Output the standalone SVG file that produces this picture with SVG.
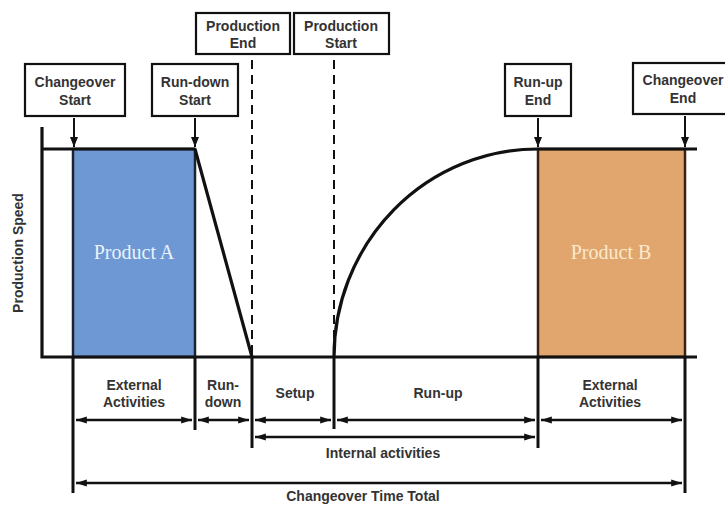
<svg xmlns="http://www.w3.org/2000/svg" width="725" height="506" viewBox="0 0 725 506">
  <style>
    .lbl { font-family: "Liberation Sans", Arial, sans-serif; font-weight: bold; font-size: 14px; fill: #333; text-anchor: middle; }
    .box { fill: #fff; stroke: #111; stroke-width: 2.2; }
    .prod { font-family: "Liberation Serif", "Times New Roman", serif; font-size: 20px; text-anchor: middle; }
    .axis { stroke: #111; stroke-width: 3.2; fill: none; }
    .dim { stroke: #111; stroke-width: 2.6; fill: none; }
    .tick { stroke: #111; stroke-width: 3; }
    .dash { stroke: #111; stroke-width: 2; stroke-dasharray: 9 6; }
    .ptr { stroke: #111; stroke-width: 2; marker-end: url(#head); }
  </style>
  <defs>
    <marker id="head" viewBox="0 0 10 10" refX="10" refY="5" markerWidth="10" markerHeight="10" markerUnits="userSpaceOnUse" orient="auto-start-reverse">
      <path d="M0,1 L10,5 L0,9 Z" fill="#111"/>
    </marker>
    <marker id="dh" viewBox="0 0 12 10" refX="12" refY="5" markerWidth="12" markerHeight="9" markerUnits="userSpaceOnUse" orient="auto-start-reverse">
      <path d="M0,1 L12,5 L0,9 Z" fill="#111"/>
    </marker>
  </defs>

  <rect width="725" height="506" fill="#fff"/>

  <!-- product blocks -->
  <g id="product-a">
    <rect x="73" y="149" width="122" height="208" fill="#6d98d3" stroke="#1c2230" stroke-width="2.5"/>
    <text class="prod" x="134" y="259" fill="#eaf2fb">Product A</text>
  </g>
  <g id="product-b">
    <rect x="538" y="149" width="147" height="208" fill="#e1a66e" stroke="#3a2010" stroke-width="2.5"/>
    <text class="prod" x="611" y="259" fill="#fbe9cf">Product B</text>
  </g>

  <!-- axes and speed profile -->
  <g id="chart">
    <path class="axis" d="M42,127 V357 H697"/>
    <path class="axis" d="M42,149 H195"/>
    <path class="axis" d="M538,149 H697"/>
    <path class="axis" d="M195,149 L252,357"/>
    <path class="axis" d="M334,357 A204,208 0 0 1 538,149"/>
    <line class="dash" x1="252" y1="60" x2="252" y2="355"/>
    <line class="dash" x1="334" y1="60" x2="334" y2="355"/>
    <text class="lbl" font-size="13" transform="translate(23,253) rotate(-90)">Production Speed</text>
  </g>

  <!-- event markers -->
  <g id="changeover-start">
    <rect class="box" x="25" y="64" width="100" height="52"/>
    <text class="lbl" x="75" y="87">Changeover</text>
    <text class="lbl" x="75" y="105">Start</text>
  </g>
  <g id="run-down-start">
    <rect class="box" x="152" y="64" width="86" height="52"/>
    <text class="lbl" x="195" y="87">Run-down</text>
    <text class="lbl" x="195" y="105">Start</text>
  </g>
  <g id="production-end">
    <rect class="box" x="196" y="13" width="94" height="41"/>
    <text class="lbl" x="243" y="31">Production</text>
    <text class="lbl" x="243" y="48">End</text>
  </g>
  <g id="production-start">
    <rect class="box" x="294" y="13" width="95" height="41"/>
    <text class="lbl" x="341" y="31">Production</text>
    <text class="lbl" x="341" y="48">Start</text>
  </g>
  <g id="run-up-end">
    <rect class="box" x="505" y="64" width="66" height="52"/>
    <text class="lbl" x="538" y="87">Run-up</text>
    <text class="lbl" x="538" y="105">End</text>
  </g>
  <g id="changeover-end">
    <rect class="box" x="633" y="63" width="96" height="51"/>
    <text class="lbl" x="683" y="85">Changeover</text>
    <text class="lbl" x="683" y="103">End</text>
  </g>

  <!-- connectors -->
  <g id="connectors">
    <line class="ptr" x1="74" y1="118" x2="74" y2="147"/>
    <line class="ptr" x1="195" y1="118" x2="195" y2="147"/>
    <line class="ptr" x1="538" y1="118" x2="538" y2="147"/>
    <line class="ptr" x1="685" y1="116" x2="685" y2="147"/>

    <line class="tick" x1="73" y1="357" x2="73" y2="493"/>
    <line class="tick" x1="195" y1="357" x2="195" y2="430"/>
    <line class="tick" x1="252" y1="357" x2="252" y2="448"/>
    <line class="tick" x1="334" y1="357" x2="334" y2="429"/>
    <line class="tick" x1="538" y1="357" x2="538" y2="448"/>
    <line class="tick" x1="685" y1="357" x2="685" y2="493"/>

    <line class="dim" x1="76" y1="420" x2="192" y2="420" marker-start="url(#dh)" marker-end="url(#dh)"/>
    <line class="dim" x1="198" y1="420" x2="249" y2="420" marker-start="url(#dh)" marker-end="url(#dh)"/>
    <line class="dim" x1="255" y1="420" x2="331" y2="420" marker-start="url(#dh)" marker-end="url(#dh)"/>
    <line class="dim" x1="337" y1="420" x2="535" y2="420" marker-start="url(#dh)" marker-end="url(#dh)"/>
    <line class="dim" x1="541" y1="420" x2="682" y2="420" marker-start="url(#dh)" marker-end="url(#dh)"/>
    <line class="dim" x1="255" y1="437" x2="535" y2="437" marker-start="url(#dh)" marker-end="url(#dh)"/>
    <line class="dim" x1="76" y1="483" x2="682" y2="483" marker-start="url(#dh)" marker-end="url(#dh)"/>
  </g>

  <!-- interval labels -->
  <g id="labels">
    <text class="lbl" x="134" y="390">External</text>
    <text class="lbl" x="134" y="407">Activities</text>
    <text class="lbl" x="223" y="390">Run-</text>
    <text class="lbl" x="223" y="407">down</text>
    <text class="lbl" x="295" y="398">Setup</text>
    <text class="lbl" x="438" y="398">Run-up</text>
    <text class="lbl" x="610" y="390">External</text>
    <text class="lbl" x="610" y="407">Activities</text>
    <text class="lbl" x="383" y="458">Internal activities</text>
    <text class="lbl" x="363" y="501">Changeover Time Total</text>
  </g>
</svg>
